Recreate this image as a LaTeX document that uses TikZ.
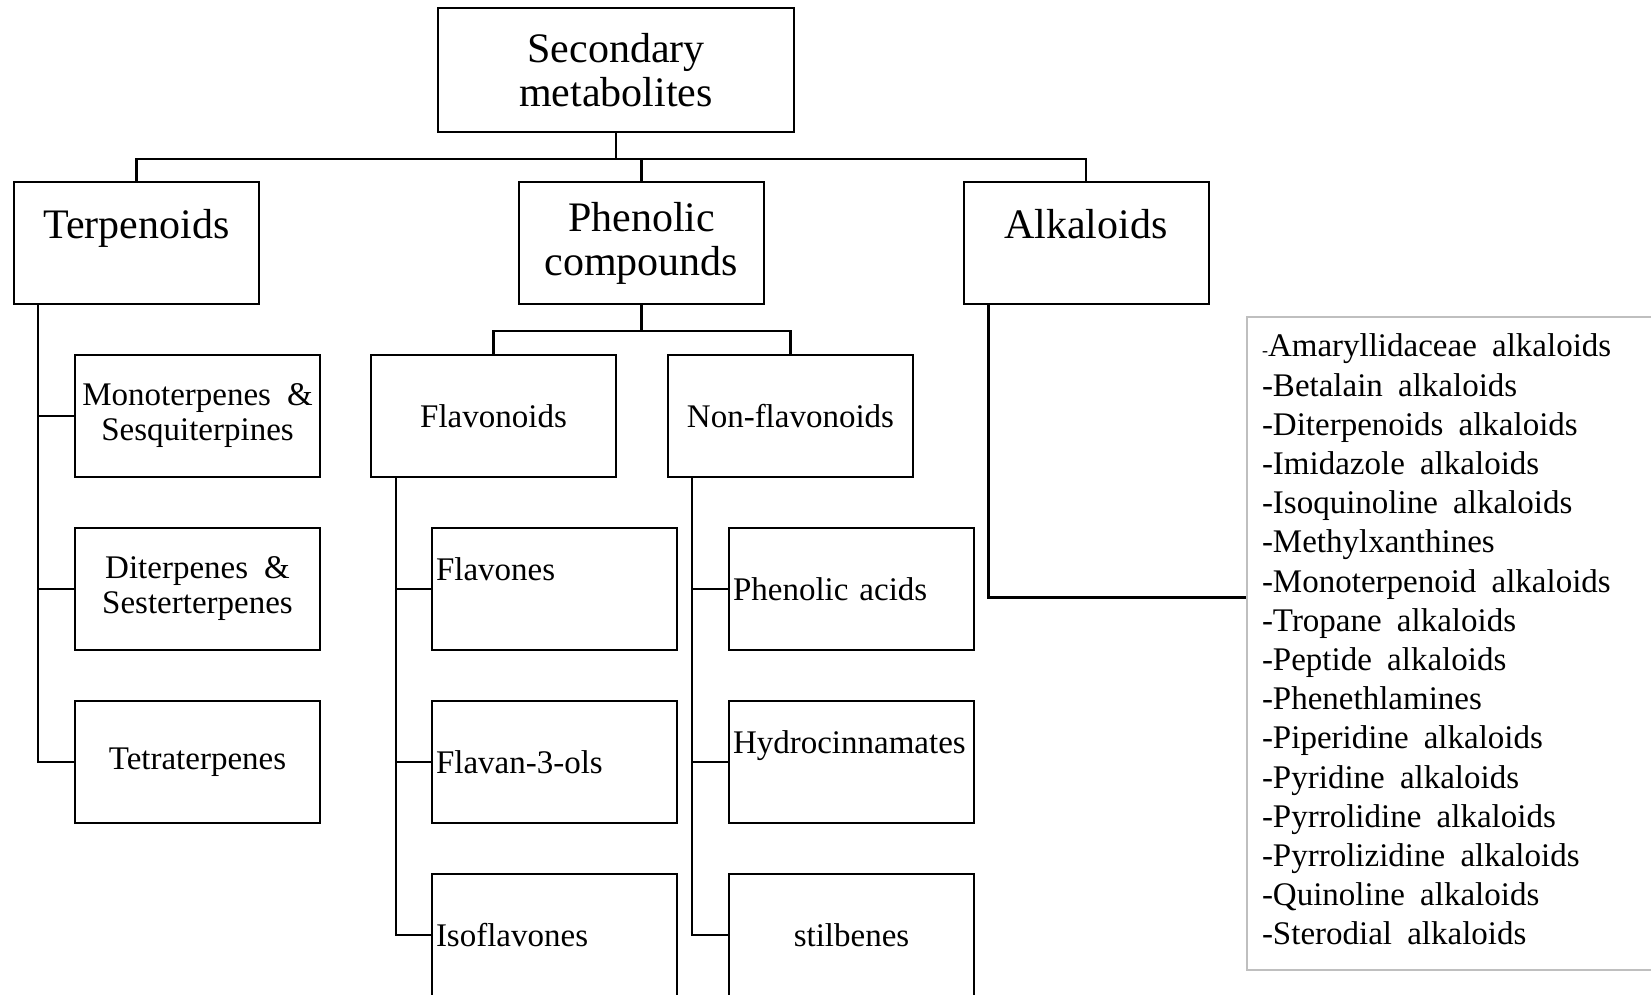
\documentclass[tikz,border=0pt]{standalone}
\usepackage{fontspec}
\setmainfont{Liberation Serif}
\newcommand\listfont{\fontsize{16.5}{19.6}\selectfont}
\tikzset{
    box/.style={draw, line width=1pt, minimum width=122.5pt, minimum height=61pt, inner sep=2pt,
        align=center, font=\fontsize{16.5}{19.6}\selectfont},
    bigbox/.style={box, font=\fontsize{21}{22}\selectfont},
    leftbox/.style={box, text width=118.5pt, align=left},
    pairbox/.style={box, font=\fontsize{16.5}{17.5}\selectfont},
    listbox/.style={draw=black!25, line width=1pt, anchor=north west, text width=200pt,
        inner xsep=7.5pt, inner ysep=8.5pt, align=left, font=\listfont},
    link/.style={line width=1.2pt},
}
\begin{document}
\begin{tikzpicture}[x=0.5pt, y=-0.5pt]
        \useasboundingbox (0,0) rectangle (1651,995);
        % Draw the top levels
        \node[bigbox, minimum width=178pt, minimum height=62pt] (top) at (616,70) {Secondary\\metabolites};
        \node[bigbox] (terp) at (136.5,243) {Terpenoids\\[-3pt]\phantom{T}};
        \node[bigbox] (phen) at (641.5,243) {Phenolic\\compounds};
        \node[bigbox] (alk) at (1086,243) {Alkaloids\\[-3pt]\phantom{A}};
        % Draw the terpenoid classes
        \node[pairbox] (mono) at (197.5,416) {Monoterpenes\hspace{8pt}\&\\Sesquiterpines};
        \node[pairbox] (diter) at (197.5,589) {Diterpenes\hspace{8pt}\&\\Sesterterpenes};
        \node[box] (tetra) at (197.5,762) {Tetraterpenes};
        % Draw the phenolic classes
        \node[box] (flav) at (493.5,416) {Flavonoids};
        \node[box] (nonflav) at (790.5,416) {Non-flavonoids};
        \node[leftbox] (flavones) at (554.5,589) {Flavones\\\phantom{F}};
        \node[leftbox] (flavanols) at (554.5,762) {Flavan-3-ols};
        \node[leftbox] (isoflav) at (554.5,935) {Isoflavones};
        \node[leftbox] (phenacid) at (851.5,589) {Phenolic acids};
        \node[leftbox] (hydro) at (851.5,762) {Hydrocinnamates\\\phantom{H}};
        \node[box] (stilb) at (851.5,935) {stilbenes};
        % Draw the alkaloid list
        \node[listbox] (list) at (1246,316) {\spaceskip=7.6pt\relax
            {\fontsize{9}{10}\selectfont -}Amaryllidaceae alkaloids\\
            -Betalain alkaloids\\
            -Diterpenoids alkaloids\\
            -Imidazole alkaloids\\
            -Isoquinoline alkaloids\\
            -Methylxanthines\\
            -Monoterpenoid alkaloids\\
            -Tropane alkaloids\\
            -Peptide alkaloids\\
            -Phenethlamines\\
            -Piperidine alkaloids\\
            -Pyridine alkaloids\\
            -Pyrrolidine alkaloids\\
            -Pyrrolizidine alkaloids\\
            -Quinoline alkaloids\\
            -Sterodial alkaloids\par\vspace{4pt}\hrule height 0pt width 0pt};
        % Draw the top connections
        \coordinate (bus) at ([yshift=-13pt]top.south);
        \draw[link] (top.south) -- (bus);
        \draw[link] (terp.north) |- (bus) -| (alk.north);
        \draw[link] (bus -| phen.north) -- (phen.north);
        \coordinate (pbus) at ([yshift=-13pt]phen.south);
        \draw[link] (phen.south) -- (pbus);
        \draw[link] (flav.north) |- (pbus) -| (nonflav.north);
        % Draw the side connections
        \foreach \c in {mono,diter,tetra} {
            \draw[link] ([xshift=12.5pt]terp.south west) |- (\c.west);
        }
        \foreach \c in {flavones,flavanols,isoflav} {
            \draw[link] ([xshift=13pt]flav.south west) |- (\c.west);
        }
        \foreach \c in {phenacid,hydro,stilb} {
            \draw[link] ([xshift=12.5pt]nonflav.south west) |- (\c.west);
        }
        \draw[link] ([xshift=13pt]alk.south west) |- ([yshift=23pt]list.west);
    \end{tikzpicture}
\end{document}
